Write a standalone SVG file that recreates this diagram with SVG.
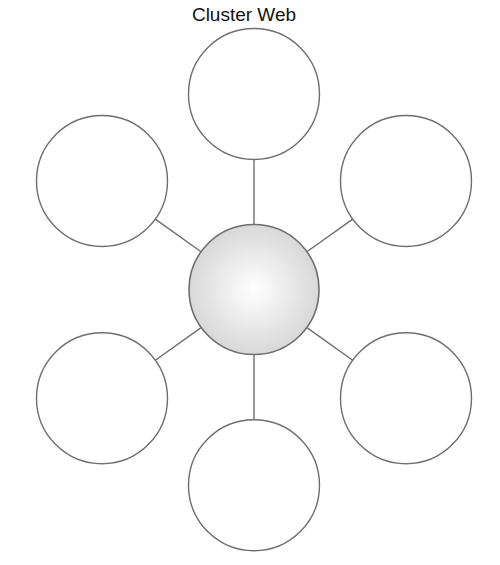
<svg xmlns="http://www.w3.org/2000/svg" width="500" height="565" viewBox="0 0 500 565">
<defs>
<radialGradient id="hub" cx="50%" cy="50%" r="50%">
<stop offset="0" stop-color="#ffffff"/>
<stop offset="1" stop-color="#d8d8d8"/>
</radialGradient>
</defs>
<style>
.node{fill:#ffffff;stroke:#6e6e6e;stroke-width:1.4}
.hub{fill:url(#hub);stroke:#6e6e6e;stroke-width:1.6}
.conn line{stroke:#6e6e6e;stroke-width:1.4}
.title{font-family:"Liberation Sans",Arial,sans-serif;font-size:19px;fill:#111111;text-anchor:middle}
</style>
<rect width="500" height="565" fill="#ffffff"/>
<text class="title" x="244" y="20.5">Cluster Web</text>
<g id="connectors" class="conn">
<line x1="254" y1="159.5" x2="254" y2="224.5"/>
<line x1="155.3" y1="219.1" x2="201.1" y2="251.7"/>
<line x1="352.7" y1="219.1" x2="306.9" y2="251.7"/>
<line x1="155.3" y1="360.3" x2="201.1" y2="327.6"/>
<line x1="352.7" y1="360.3" x2="306.9" y2="327.6"/>
<line x1="254" y1="354.5" x2="254" y2="419.8"/>
</g>
<g id="node-top"><circle class="node" cx="254" cy="94" r="65.5"/></g>
<g id="node-upper-left"><circle class="node" cx="102" cy="181" r="65.5"/></g>
<g id="node-upper-right"><circle class="node" cx="406" cy="181" r="65.5"/></g>
<g id="node-lower-left"><circle class="node" cx="102" cy="398.3" r="65.5"/></g>
<g id="node-lower-right"><circle class="node" cx="406" cy="398.3" r="65.5"/></g>
<g id="node-bottom"><circle class="node" cx="254" cy="485.3" r="65.5"/></g>
<g id="node-center"><circle class="hub" cx="254" cy="289.5" r="65"/></g>
</svg>
